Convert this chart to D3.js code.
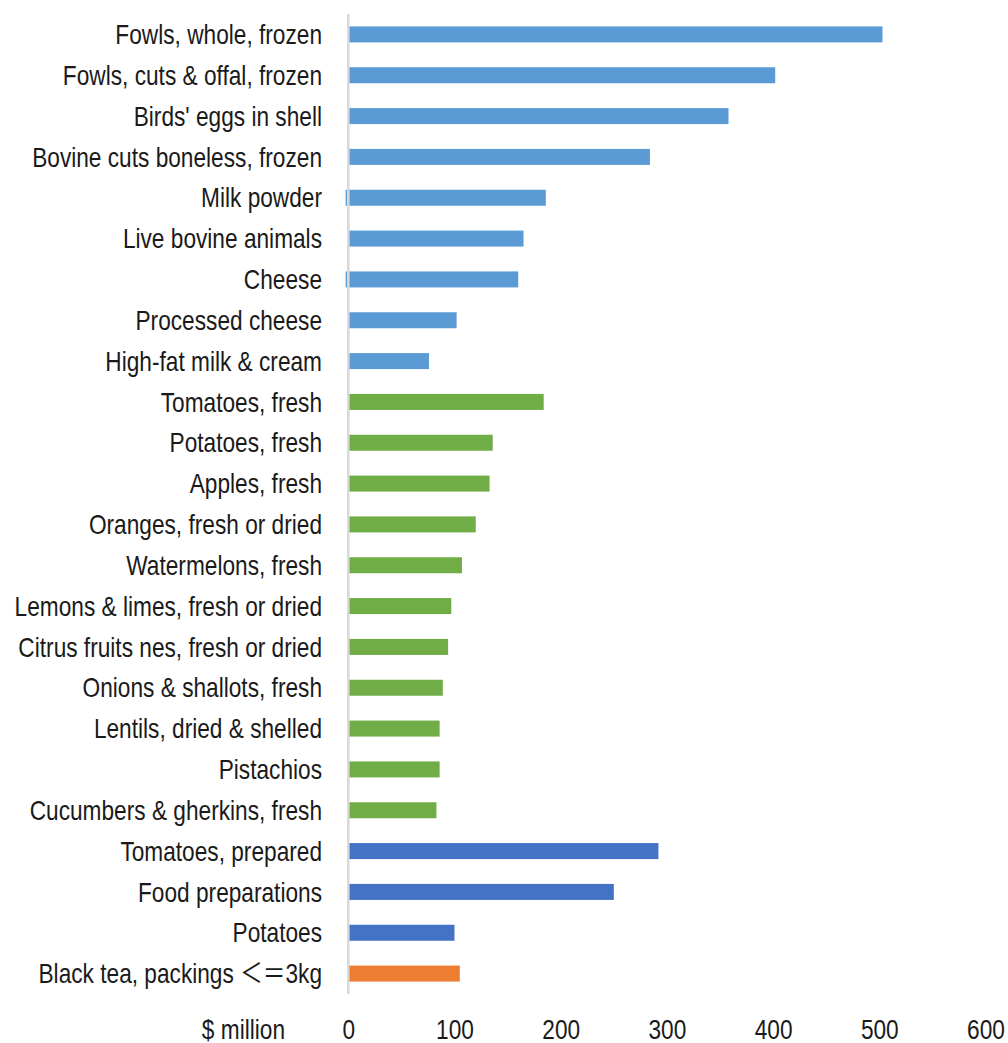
<!DOCTYPE html>
<html>
<head>
<meta charset="utf-8">
<script src="https://cdn.jsdelivr.net/npm/d3@7"></script>
<style>
  html, body { margin: 0; padding: 0; background: #fff; }
  svg { display: block; }
</style>
</head>
<body>
<svg id="chart" width="1008" height="1043"></svg>
<script>
// Product categories, top to bottom
const categories = [
  "Fowls, whole, frozen",
  "Fowls, cuts & offal, frozen",
  "Birds' eggs in shell",
  "Bovine cuts boneless, frozen",
  "Milk powder",
  "Live bovine animals",
  "Cheese",
  "Processed cheese",
  "High-fat milk & cream",
  "Tomatoes, fresh",
  "Potatoes, fresh",
  "Apples, fresh",
  "Oranges, fresh or dried",
  "Watermelons, fresh",
  "Lemons & limes, fresh or dried",
  "Citrus fruits nes, fresh or dried",
  "Onions & shallots, fresh",
  "Lentils, dried & shelled",
  "Pistachios",
  "Cucumbers & gherkins, fresh",
  "Tomatoes, prepared",
  "Food preparations",
  "Potatoes",
  "Black tea, packings ＜＝3kg"
];

// Values in $ million
const values = [
  503, 402, 358, 284, 186, 165, 160, 102, 76,
  184, 136, 133, 120, 107, 97, 94, 89, 86, 86, 83,
  292, 250, 100, 105
];

// Small negative entries shown left of the zero line
const negatives = [
  0, 0, 0, 0, -2.5, 0, -2.5, 0, 0,
  0, 0, 0, 0, 0, 0, 0, 0, 0, 0, 0,
  0, 0, 0, 0
];

// Product group of each category
const groups = [
  "animal", "animal", "animal", "animal", "animal", "animal", "animal", "animal", "animal",
  "produce", "produce", "produce", "produce", "produce", "produce", "produce", "produce", "produce", "produce", "produce",
  "processed", "processed", "processed",
  "beverage"
];

const groupNames = ["animal", "produce", "processed", "beverage"];
const groupColors = ["#5B9BD5", "#70AD47", "#4472C4", "#ED7D31"];

const xTicks = [0, 100, 200, 300, 400, 500, 600];
const axisTitle = "$ million";

const rows = categories.map((c, i) => ({
  name: c, value: values[i], neg: negatives[i], group: groups[i]
}));

const svg = d3.select("#chart");
const fontSize = 27;

// Pick a condensed face; fall back to horizontally compressed Liberation Sans
function measure(family) {
  const t = svg.append("text")
    .attr("font-family", family)
    .attr("font-size", fontSize)
    .text("Fowls, whole, frozen");
  const w = t.node().getComputedTextLength();
  t.remove();
  return w;
}
const wideW = measure("'Liberation Sans', Arial, sans-serif");
const narrowW = measure("'Liberation Sans Narrow', 'Arial Narrow', 'Liberation Sans', sans-serif");
let family, squeeze;
if (narrowW < wideW * 0.92) {
  family = "'Liberation Sans Narrow', 'Arial Narrow', 'Noto Sans CJK SC', sans-serif";
  squeeze = 1.02;
} else {
  family = "'Liberation Sans', Arial, 'Noto Sans CJK SC', sans-serif";
  squeeze = 0.84;
}

const x = d3.scaleLinear()
  .domain([0, 600])
  .range([348.3, 985.5]);

const y = d3.scaleBand()
  .domain(categories)
  .range([14, 994])
  .paddingInner(0.608)
  .paddingOuter(0.304);

const color = d3.scaleOrdinal().domain(groupNames).range(groupColors);

// Bars
svg.append("g")
  .selectAll("rect.pos")
  .data(rows)
  .join("rect")
  .attr("class", "pos")
  .attr("x", x(0))
  .attr("y", d => y(d.name))
  .attr("width", d => x(d.value) - x(0))
  .attr("height", y.bandwidth())
  .attr("fill", d => color(d.group));

svg.append("g")
  .selectAll("rect.neg")
  .data(rows.filter(d => d.neg < 0))
  .join("rect")
  .attr("class", "neg")
  .attr("x", d => x(d.neg))
  .attr("y", d => y(d.name))
  .attr("width", d => x(0) - x(d.neg))
  .attr("height", y.bandwidth())
  .attr("fill", d => color(d.group));

// Vertical zero line
svg.append("line")
  .attr("x1", x(0)).attr("x2", x(0))
  .attr("y1", 14).attr("y2", 994)
  .attr("stroke", "#d9d9d9")
  .attr("stroke-width", 2.6);

// Category labels
const capOffset = fontSize * 0.36;
svg.append("g")
  .selectAll("text")
  .data(rows)
  .join("text")
  .attr("transform", d => `translate(322,${y(d.name) + y.bandwidth() / 2 + capOffset}) scale(${squeeze},1)`)
  .attr("text-anchor", "end")
  .attr("font-family", family)
  .attr("font-size", fontSize)
  .attr("fill", "#1a1a1a")
  .text(d => d.name);

// X axis tick labels
const xAxis = d3.axisBottom(x)
  .tickValues(xTicks)
  .tickSize(0)
  .tickPadding(0)
  .tickFormat(d3.format("d"));

const axisG = svg.append("g")
  .attr("transform", "translate(0,1039)")
  .call(xAxis);
axisG.select(".domain").remove();
axisG.selectAll(".tick text")
  .attr("dy", null)
  .attr("y", 0)
  .attr("font-family", family)
  .attr("font-size", fontSize)
  .attr("fill", "#1a1a1a")
  .attr("transform", `scale(${squeeze},1)`)
  .attr("text-anchor", "middle");

svg.append("text")
  .attr("transform", `translate(285,1039) scale(${squeeze},1)`)
  .attr("text-anchor", "end")
  .attr("font-family", family)
  .attr("font-size", fontSize)
  .attr("fill", "#1a1a1a")
  .text(axisTitle);
</script>
</body>
</html>
